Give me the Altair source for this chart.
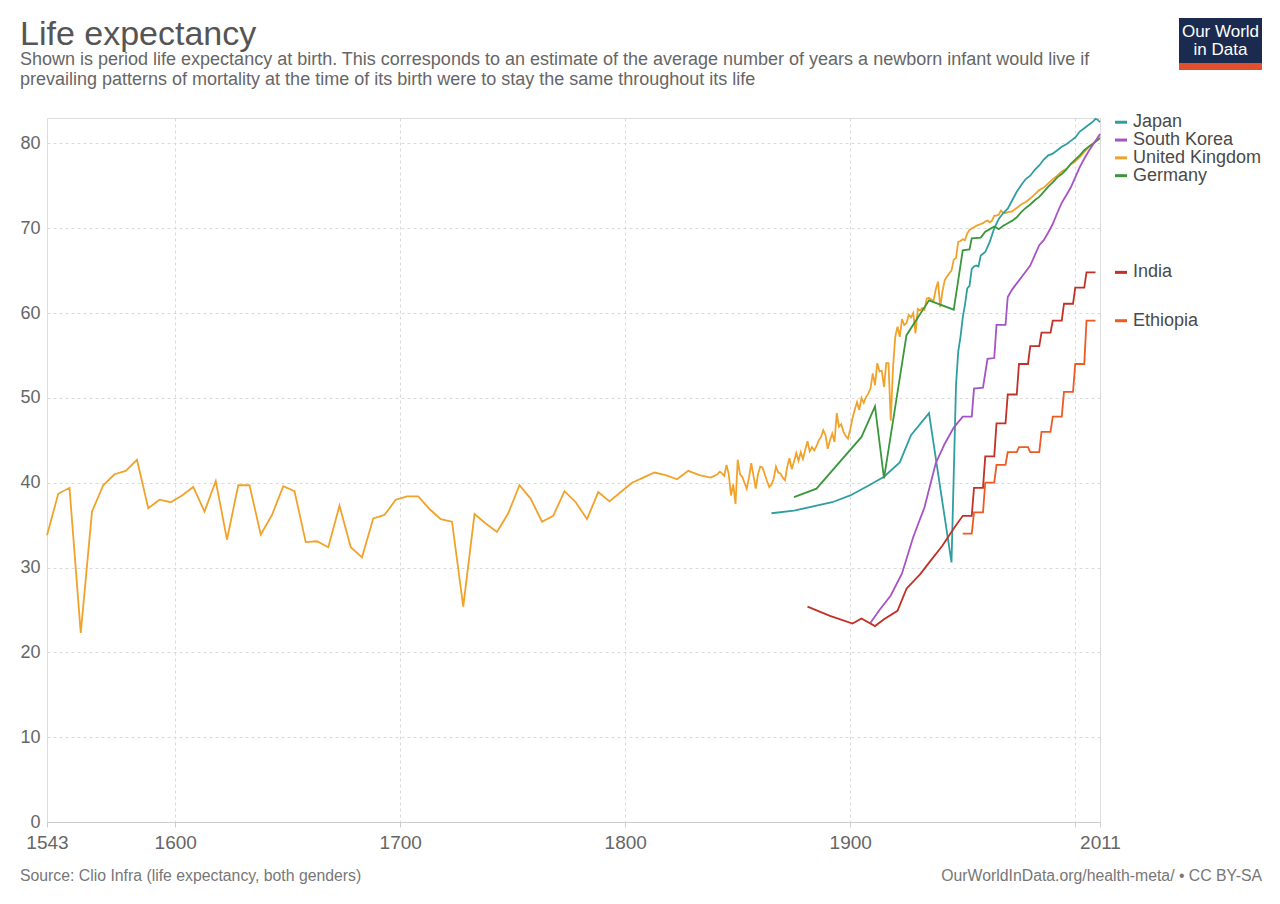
import altair as alt
import pandas as pd

# ---------------- data ----------------
countries = ["Japan", "South Korea", "United Kingdom", "Germany", "India", "Ethiopia"]
colors = ["#2f9ea0", "#a653c5", "#f1a22b", "#3b973c", "#c13127", "#ef5a23"]

uk_years = [1543, 1548, 1553, 1558, 1563, 1568, 1573, 1578, 1583, 1588, 1593, 1598,
            1603, 1608, 1613, 1618, 1623, 1628, 1633, 1638, 1643, 1648, 1653, 1658,
            1663, 1668, 1673, 1678, 1683, 1688, 1693, 1698, 1703, 1708, 1713, 1718,
            1723, 1728, 1733, 1738, 1743, 1748, 1753, 1758, 1763, 1768, 1773, 1778,
            1783, 1788, 1793, 1798, 1803, 1808, 1813, 1818, 1823, 1828, 1833, 1838,
            1841, 1842, 1843, 1844, 1845, 1846, 1847, 1848, 1849, 1850,
            1851, 1852, 1853, 1854, 1855, 1856, 1857, 1858, 1859, 1860,
            1861, 1862, 1863, 1864, 1865, 1866, 1867, 1868, 1869, 1870,
            1871, 1872, 1873, 1874, 1875, 1876, 1877, 1878, 1879, 1880,
            1881, 1882, 1883, 1884, 1885, 1886, 1887, 1888, 1889, 1890,
            1891, 1892, 1893, 1894, 1895, 1896, 1897, 1898, 1899, 1900,
            1901, 1902, 1903, 1904, 1905, 1906, 1907, 1908, 1909, 1910,
            1911, 1912, 1913, 1914, 1915, 1916, 1917, 1918, 1919, 1920,
            1921, 1922, 1923, 1924, 1925, 1926, 1927, 1928, 1929, 1930,
            1931, 1932, 1933, 1934, 1935, 1936, 1937, 1938, 1939, 1940,
            1941, 1942, 1943, 1944, 1945, 1946, 1947, 1948, 1949, 1950,
            1951, 1952, 1953, 1954, 1955, 1956, 1957, 1958, 1959, 1960,
            1961, 1962, 1963, 1964, 1965, 1966, 1967, 1968, 1969, 1970,
            1972, 1974, 1976, 1978, 1980, 1982, 1984, 1986, 1988, 1990,
            1992, 1994, 1996, 1998, 2000, 2002, 2004, 2006, 2008, 2010, 2011]
uk_values = [33.8, 38.7, 39.4, 22.3, 36.6, 39.7, 41.0, 41.4, 42.7, 37.0, 38.0, 37.7,
             38.5, 39.5, 36.6, 40.2, 33.3, 39.7, 39.7, 33.9, 36.2, 39.6, 39.0, 33.0,
             33.1, 32.4, 37.3, 32.4, 31.2, 35.8, 36.2, 38.0, 38.4, 38.4, 36.9, 35.7,
             35.4, 25.4, 36.3, 35.2, 34.2, 36.4, 39.7, 38.1, 35.4, 36.1, 39.0, 37.7,
             35.7, 38.9, 37.8, 38.9, 40.0, 40.6, 41.2, 40.9, 40.4, 41.4, 40.9, 40.6,
             41.0, 41.3, 41.1, 40.8, 42.1, 41.0, 38.5, 39.8, 37.5, 42.7,
             41.0, 40.7, 40.0, 39.3, 40.6, 42.3, 40.8, 39.3, 41.0, 41.9,
             41.8, 41.0, 40.2, 39.5, 39.8, 40.5, 41.9, 41.2, 41.1, 40.6,
             40.3, 41.9, 42.9, 41.6, 42.5, 43.5, 42.6, 43.6, 42.8, 43.9,
             44.9, 43.7, 44.2, 43.8, 44.3, 45.0, 45.4, 46.2, 45.6, 44.0,
             45.0, 45.8, 44.8, 48.2, 46.6, 46.9, 46.0, 45.5, 45.2, 46.3,
             47.6, 48.6, 49.5, 48.6, 50.0, 49.4, 50.1, 50.5, 51.1, 52.9,
             51.5, 54.1, 53.1, 53.2, 51.3, 54.1, 54.1, 47.3, 53.5, 57.2,
             58.4, 57.2, 59.3, 58.6, 58.8, 59.8, 59.5, 60.0, 57.6, 60.5,
             60.3, 60.6, 60.4, 61.7, 61.8, 61.6, 61.4, 62.8, 63.7, 60.7,
             62.6, 63.9, 64.3, 64.7, 65.0, 66.3, 66.5, 68.4, 68.5, 68.7,
             68.6, 69.4, 69.8, 70.0, 70.1, 70.3, 70.4, 70.5, 70.6, 70.8,
             70.9, 70.7, 70.9, 71.5, 71.5, 71.6, 72.1, 71.8, 71.8, 71.9,
             72.0, 72.4, 72.8, 73.1, 73.5, 74.0, 74.5, 74.8, 75.3, 75.8,
             76.2, 76.7, 77.0, 77.5, 77.9, 78.4, 79.0, 79.6, 80.0, 80.5, 80.8]

japan_years = [1865, 1875, 1885, 1892, 1900, 1909, 1915, 1922, 1927, 1935, 1945,
               1946, 1947, 1948, 1949, 1950, 1951, 1952, 1953, 1954, 1955, 1956,
               1957, 1958, 1959, 1960, 1962, 1964, 1966, 1968, 1970, 1972, 1974,
               1976, 1978, 1980, 1982, 1984, 1986, 1988, 1990, 1992, 1994, 1996,
               1998, 2000, 2002, 2004, 2006, 2008, 2009, 2010, 2011]
japan_values = [36.4, 36.7, 37.3, 37.7, 38.5, 39.8, 40.7, 42.4, 45.6, 48.2, 30.6,
                41.0, 51.5, 55.5, 57.2, 59.5, 61.0, 62.9, 63.2, 65.2, 65.5, 65.6,
                65.5, 66.8, 67.0, 67.2, 68.4, 70.0, 71.1, 71.8, 72.3, 73.3, 74.3,
                75.1, 75.8, 76.2, 76.9, 77.4, 78.1, 78.6, 78.8, 79.2, 79.6, 79.9,
                80.3, 80.7, 81.4, 81.8, 82.2, 82.6, 82.9, 82.8, 82.5]

germany_years = [1875, 1885, 1905, 1911, 1915, 1925, 1935, 1946, 1950, 1953, 1954,
                 1958, 1960, 1962, 1964, 1966, 1968, 1970, 1972, 1974, 1976, 1978,
                 1980, 1982, 1984, 1986, 1988, 1990, 1992, 1994, 1996, 1998, 2000,
                 2002, 2004, 2006, 2008, 2010, 2011]
germany_values = [38.3, 39.3, 45.4, 49.0, 40.5, 57.4, 61.5, 60.4, 67.4, 67.5, 68.8,
                  68.9, 69.6, 69.9, 70.2, 69.9, 70.3, 70.6, 70.9, 71.3, 71.9, 72.4,
                  72.8, 73.3, 73.7, 74.3, 74.9, 75.4, 76.0, 76.4, 76.9, 77.6, 78.1,
                  78.6, 79.2, 79.6, 80.0, 80.4, 80.6]

korea_years = [1909, 1913, 1918, 1923, 1928, 1933, 1938, 1942, 1946, 1950, 1954,
               1955, 1959, 1961, 1964, 1965, 1969, 1970, 1972, 1974, 1976, 1978,
               1980, 1982, 1984, 1986, 1988, 1990, 1992, 1994, 1996, 1998, 2000,
               2002, 2004, 2006, 2008, 2010, 2011]
korea_values = [23.5, 25.0, 26.7, 29.3, 33.6, 37.1, 42.3, 44.6, 46.5, 47.8, 47.8,
                51.1, 51.2, 54.6, 54.7, 58.6, 58.6, 61.9, 62.8, 63.5, 64.2, 64.9,
                65.6, 66.8, 68.0, 68.6, 69.5, 70.5, 71.8, 73.0, 73.9, 74.8, 76.0,
                77.2, 78.2, 79.1, 79.9, 80.7, 81.1]

india_years = [1881, 1891, 1901, 1905, 1911, 1915, 1921, 1925, 1931, 1936, 1941, 1946]
india_values = [25.4, 24.3, 23.4, 24.0, 23.1, 23.9, 24.9, 27.5, 29.2, 30.9, 32.6, 34.6]
india_block_starts = [1950, 1955, 1960, 1965, 1970, 1975, 1980, 1985, 1990, 1995, 2000, 2005]
india_block_values = [36.1, 39.4, 43.1, 47.0, 50.4, 54.0, 56.1, 57.7, 59.1, 61.1, 63.0, 64.8]

ethiopia_block_starts = [1950, 1955, 1960, 1965, 1970, 1975, 1980, 1985, 1990, 1995, 2000, 2005]
ethiopia_block_values = [34.0, 36.5, 40.0, 42.1, 43.6, 44.2, 43.6, 46.0, 47.8, 50.7, 54.0, 59.1]

x_tick_values = [1543, 1600, 1700, 1800, 1900, 2000, 2011]
y_tick_values = [0, 10, 20, 30, 40, 50, 60, 70, 80]

title_text = "Life expectancy"
subtitle_lines = [
    "Shown is period life expectancy at birth. This corresponds to an estimate of the average number of years a newborn infant would live if",
    "prevailing patterns of mortality at the time of its birth were to stay the same throughout its life",
]
source_text = "Source: Clio Infra (life expectancy, both genders)"
credit_text = "OurWorldInData.org/health-meta/ • CC BY-SA"
logo_lines = ["Our World", "in Data"]

# ---------------- build table ----------------
rows = []
def add(name, ys, vs):
    for y, v in zip(ys, vs):
        rows.append({"country": name, "year": y, "value": v})

add("United Kingdom", uk_years, uk_values)
add("Japan", japan_years, japan_values)
add("Germany", germany_years, germany_values)
add("South Korea", korea_years, korea_values)
add("India", india_years, india_values)
for s, v in zip(india_block_starts, india_block_values):
    add("India", [s, s + 4], [v, v])
for s, v in zip(ethiopia_block_starts, ethiopia_block_values):
    add("Ethiopia", [s, s + 4], [v, v])
df = pd.DataFrame(rows)

# end labels, nudged apart so they do not overlap
last = df.sort_values("year").groupby("country").tail(1).set_index("country")["value"]
order = sorted(countries, key=lambda c: -last[c])
label_y = {}
prev = None
for c in order:
    v = last[c] if prev is None else min(last[c], prev - 2.1)
    label_y[c] = v
    prev = v
x_end = df["year"].max()
lab_df = pd.DataFrame({"country": countries,
                       "year": [x_end] * len(countries),
                       "ly": [label_y[c] for c in countries]})

FONT = "Liberation Sans"
color_scale = alt.Scale(domain=countries, range=colors)

x_enc = alt.X("year:Q",
              scale=alt.Scale(domain=[1543, 2011], nice=False, zero=False),
              axis=alt.Axis(values=x_tick_values, format="d",
                            labelExpr="datum.value == 2000 ? '' : datum.label",
                            grid=True, gridDash=[3, 3], gridColor="#dadada",
                            gridOpacity={"condition": {"test": "datum.value == 1543 || datum.value == 2011", "value": 0}, "value": 1},
                            domain=True, domainColor="#cccccc", ticks=True, tickSize=5,
                            tickColor="#cccccc", labelPadding=6,
                            labelFontSize=19, labelColor="#666666", labelFont=FONT,
                            labelFlush=False, labelOverlap=False, title=None))
y_enc = alt.Y("value:Q",
              scale=alt.Scale(domain=[0, 83], nice=False),
              axis=alt.Axis(values=y_tick_values, grid=True, gridDash=[3, 3],
                            gridColor="#dadada", domain=False, ticks=False,
                            labelPadding=7, labelFontSize=18, labelColor="#666666",
                            labelFont=FONT, title=None))

lines = alt.Chart(df).mark_line(strokeWidth=1.8).encode(
    x=x_enc, y=y_enc,
    color=alt.Color("country:N", scale=color_scale, legend=None),
    detail="country:N",
)

dashes = alt.Chart(lab_df).mark_rule(strokeWidth=3, xOffset=15, x2Offset=27).encode(
    x="year:Q", x2="year:Q", y=alt.Y("ly:Q"),
    color=alt.Color("country:N", scale=color_scale, legend=None),
)
labels = alt.Chart(lab_df).mark_text(align="left", baseline="middle", dx=33,
                                     fontSize=18, font=FONT, color="#4a4a4a").encode(
    x="year:Q", y=alt.Y("ly:Q"), text="country:N")

def text_layer(txt, x, y, size, color, align="left", baseline="alphabetic"):
    return alt.Chart(pd.DataFrame({"t": [txt]})).mark_text(
        align=align, baseline=baseline, fontSize=size, font=FONT, color=color).encode(
        x=alt.value(x), y=alt.value(y), text="t:N")

title_layer = text_layer(title_text, -27, -73, 34, "#555555")
sub1 = text_layer(subtitle_lines[0], -27, -53, 18, "#666666")
sub2 = text_layer(subtitle_lines[1], -27, -33, 18, "#666666")
footer_left = text_layer(source_text, -27, 763, 15.8, "#777777")
footer_right = text_layer(credit_text, 1215, 763, 15.8, "#777777", align="right")

one = pd.DataFrame({"k": [0]})
logo_box = alt.Chart(one).mark_rect(color="#1a2b4f").encode(
    x=alt.value(1132), x2=alt.value(1215), y=alt.value(-100), y2=alt.value(-48))
logo_bar = alt.Chart(one).mark_rect(color="#e0502c").encode(
    x=alt.value(1132), x2=alt.value(1215), y=alt.value(-55), y2=alt.value(-48))
logo_t1 = text_layer(logo_lines[0], 1173.5, -86, 17, "white", align="center", baseline="middle")
logo_t2 = text_layer(logo_lines[1], 1173.5, -68, 17, "white", align="center", baseline="middle")

chart = alt.layer(
    lines, dashes, labels, title_layer, sub1, sub2, footer_left, footer_right,
    logo_box, logo_bar, logo_t1, logo_t2,
).properties(
    width=1053, height=704,
    autosize=alt.AutoSizeParams(type="none"),
    padding={"left": 39, "top": 110, "right": 170, "bottom": 70},
).configure_view(stroke=None).configure(background="white")

chart.save("out.html", embed_options={"renderer": "svg", "actions": False})
